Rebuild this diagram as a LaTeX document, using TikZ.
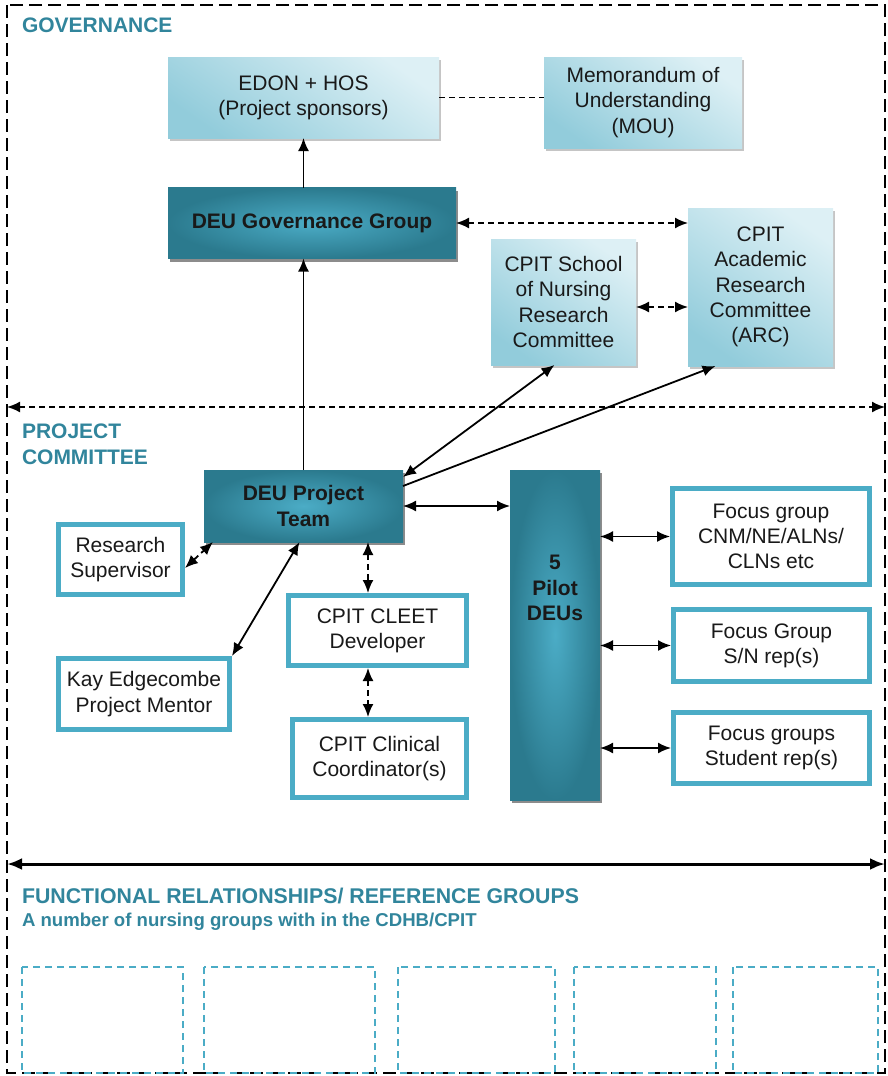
\documentclass[tikz,border=0pt]{standalone}
\usepackage{fontspec}
\setmainfont{Liberation Sans}
\usetikzlibrary{arrows.meta,shadows,calc}
\definecolor{teal5}{HTML}{4BACC6}
\definecolor{tealdk}{HTML}{2B7A8E}
\definecolor{headc}{HTML}{31859C}
\definecolor{lightA}{HTML}{92CCDB}
\definecolor{lightB}{HTML}{DDF0F5}
\begin{document}
\begin{tikzpicture}[x=1pt,y=-1pt,
  every node/.style={inner sep=0pt, outer sep=0pt, align=center, text=black!90,
    font=\fontsize{21}{25.2}\selectfont},
  lightbox/.style={top color=lightB, bottom color=lightA, shading angle=-35,
    drop shadow={shadow xshift=2pt, shadow yshift=-3pt, fill=black!45, opacity=0.5}},
  darkbox/.style={inner color=teal5, outer color=tealdk,
    font=\bfseries\fontsize{21}{25.2}\selectfont,
    drop shadow={shadow xshift=2pt, shadow yshift=-3pt, fill=black, opacity=0.45}},
  fbox/.style={draw=teal5, line width=5pt, fill=white, outer sep=2.5pt},
  head/.style={font=\bfseries\fontsize{21}{26}\selectfont, text=headc, align=left, anchor=north west},
  tipx/.tip={Latex[length=13pt,width=11pt]},
  arr/.style={line width=1.8pt, -tipx},
  darr/.style={line width=1.8pt, tipx-tipx},
  dsh/.style={dash pattern=on 6pt off 4pt},
  frame/.style={line width=1.8pt, dash pattern=on 13pt off 6pt},
  gbox/.style={draw=teal5, line width=2pt, dash pattern=on 7pt off 5pt}]
\useasboundingbox (0,0) rectangle (888,1076);

% outer frame
\coordinate (ftl) at (7,5);
\coordinate (fbr) at (885,1073);
\draw[frame] (ftl) rectangle (fbr);

% headings
\node[head] (hgov) at (22,18) {GOVERNANCE};
\node[head] (hproj) at (22,424) {PROJECT\\COMMITTEE};
\node[head, font=\bfseries\fontsize{21.3}{24}\selectfont] (hfunc) at (22,888) {FUNCTIONAL RELATIONSHIPS/ REFERENCE GROUPS};
\node[head, font=\bfseries\fontsize{18.6}{20}\selectfont] (hsub) at (22,913) {A number of nursing groups with in the CDHB/CPIT};

% governance boxes
\node[lightbox, minimum width=271pt, minimum height=81pt] (edon) at (303.5,97.5) {EDON + HOS\\(Project sponsors)};
\node[lightbox, minimum width=198pt, minimum height=91pt] (mou) at (643,102.5) {Memorandum of\\Understanding\\(MOU)};
\node[darkbox, minimum width=288pt, minimum height=71pt] (gov) at (312,223) {DEU Governance Group};
\node[lightbox, minimum width=145pt, minimum height=126pt] (school) at (563.5,302) {CPIT School\\of Nursing\\Research\\Committee};
\node[lightbox, minimum width=145pt, minimum height=158pt] (arc) at (760.5,287) {CPIT\\Academic\\Research\\Committee\\(ARC)};

% project boxes
\node[darkbox, minimum width=199pt, minimum height=72pt] (team) at (303.5,506) {DEU Project\\Team};
\node[darkbox, minimum width=90pt, minimum height=330pt,
  label={[font=\bfseries\fontsize{21}{25.2}\selectfont, align=center, text=black!90, yshift=47pt]center:{5\\Pilot\\DEUs}}] (pilot) at (555,635) {};
\node[fbox, minimum width=197pt, minimum height=96pt] (focus1) at (771,536.5) {Focus group\\CNM/NE/ALNs/\\CLNs etc};
\node[fbox, minimum width=196pt, minimum height=72pt] (focus2) at (771.5,645.5) {Focus Group\\S/N rep(s)};
\node[fbox, minimum width=196pt, minimum height=71pt] (focus3) at (771.5,748) {Focus groups\\Student rep(s)};
\node[fbox, minimum width=124pt, minimum height=70pt] (ressup) at (120.5,559.5) {Research\\Supervisor};
\node[fbox, minimum width=171pt, minimum height=71pt] (kay) at (144,694) {Kay Edgecombe\\Project Mentor};
\node[fbox, minimum width=178pt, minimum height=70pt] (cleet) at (377.5,630.5) {CPIT CLEET\\Developer};
\node[fbox, minimum width=174pt, minimum height=78pt] (clin) at (379.5,758.5) {CPIT Clinical\\Coordinator(s)};

% helper coordinates
\coordinate (y307) at (0,307);
\coordinate (x368) at (368,0);
\coordinate (sepL) at (7,407);
\coordinate (sepR) at (885,407);
\coordinate (botL) at (7,864);
\coordinate (botR) at (885,864);

% connectors
\draw[line width=1.8pt, dsh] (edon.east) -- (edon.east -| mou.west);
\draw[arr] (gov.north -| edon.south) -- (edon.south);
\draw[arr] (team.north) -- (team.north |- gov.south);
\draw[darr, dsh] (gov.east) -- (gov.east -| arc.west);
\draw[darr, dsh] (school.east |- y307) -- (arc.west |- y307);
\draw[darr] ([yshift=-7pt]team.north east) -- ([xshift=-9pt]school.south);
\draw[arr] ([yshift=-16pt]team.north east) -- ([xshift=-45pt]arc.south);
\draw[darr] (team.east) -- (team.east -| pilot.west);
\draw[darr] (pilot.east |- focus1.west) -- (focus1.west);
\draw[darr] (pilot.east |- focus2.west) -- (focus2.west);
\draw[darr] (pilot.east |- focus3.west) -- (focus3.west);
\draw[darr, dsh] ([yshift=-8.5pt]ressup.east) -- ([xshift=9pt]team.south west);
\draw[darr] (kay.north east) -- ([xshift=-4pt]team.south);
\draw[darr, dsh] (team.south -| x368) -- (cleet.north -| x368);
\draw[darr, dsh] (cleet.south -| x368) -- (clin.north -| x368);

% section separators
\draw[darr, dsh] (sepL) -- (sepR);
\draw[line width=3pt, {Latex[length=15pt,width=12pt]}-{Latex[length=15pt,width=12pt]}] (botL) -- (botR);

% reference group boxes
\draw[gbox] (22,967) rectangle (183,1073);
\draw[gbox] (204,967) rectangle (375,1073);
\draw[gbox] (398,967) rectangle (555,1073);
\draw[gbox] (574,967) rectangle (716,1073);
\draw[gbox] (733,967) rectangle (878,1073);
\end{tikzpicture}
\end{document}
